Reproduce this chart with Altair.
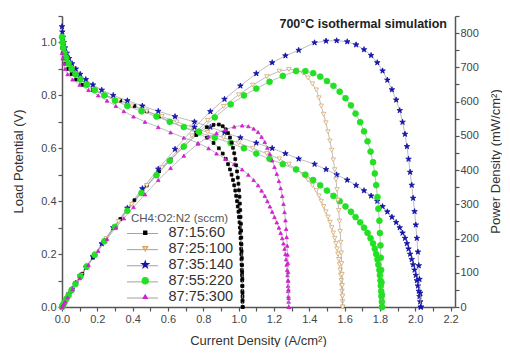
import altair as alt
import pandas as pd

series_names = ["87:15:60", "87:25:100", "87:35:140", "87:55:220", "87:75:300"]

# ---- 87:15:60 (black squares)
v_black = [0.98, 0.96, 0.94, 0.92, 0.90, 0.88, 0.86, 0.84, 0.82, 0.80, 0.78, 0.76, 0.74, 0.72, 0.70,
           0.68, 0.66, 0.64, 0.62, 0.60, 0.58, 0.56, 0.54, 0.52, 0.50, 0.48, 0.46, 0.44, 0.42, 0.40,
           0.38, 0.36, 0.34, 0.32, 0.30, 0.28, 0.26, 0.24, 0.22, 0.20, 0.18, 0.16, 0.14, 0.12, 0.10,
           0.08, 0.06, 0.04, 0.02, 0.00]
i_black = [0.000, 0.004, 0.011, 0.021, 0.035, 0.054, 0.080, 0.115, 0.175, 0.245, 0.330, 0.410, 0.480, 0.550, 0.615,
           0.685, 0.760, 0.820, 0.858, 0.888, 0.910, 0.927, 0.940, 0.951, 0.960, 0.968, 0.975, 0.981, 0.986, 0.991,
           0.995, 0.999, 1.002, 1.005, 1.007, 1.009, 1.011, 1.013, 1.014, 1.015, 1.016, 1.017, 1.018, 1.019, 1.020,
           1.021, 1.021, 1.022, 1.022, 1.023]
p_black = [0, 4, 10, 19, 32, 48, 69, 97, 144, 196, 257, 312, 355, 396, 431,
           466, 502, 525, 532, 533, 528, 519, 508, 495, 480, 465, 449, 432, 414, 396,
           378, 360, 341, 322, 302, 283, 263, 243, 223, 203, 183, 163, 143, 122, 102,
           82, 61, 41, 20, 0]

# ---- 87:25:100 (open tan triangles)
v_tan = [1.02, 1.00, 0.98, 0.96, 0.94, 0.92, 0.90, 0.88, 0.86, 0.84, 0.82, 0.80, 0.78, 0.76, 0.74,
         0.72, 0.70, 0.68, 0.66, 0.64, 0.62, 0.60, 0.58, 0.56, 0.54, 0.52, 0.50, 0.48, 0.46, 0.44,
         0.42, 0.40, 0.38, 0.36, 0.34, 0.32, 0.30, 0.28, 0.26, 0.24, 0.22, 0.20, 0.18, 0.16, 0.14,
         0.12, 0.10, 0.08, 0.06, 0.04, 0.02, 0.00]
i_tan = [0.000, 0.003, 0.008, 0.015, 0.026, 0.040, 0.058, 0.080, 0.108, 0.145, 0.192, 0.250, 0.320, 0.395, 0.480,
         0.565, 0.650, 0.735, 0.825, 0.915, 1.000, 1.080, 1.160, 1.230, 1.285, 1.330, 1.365, 1.393, 1.418, 1.440,
         1.455, 1.468, 1.481, 1.494, 1.506, 1.517, 1.527, 1.536, 1.544, 1.551, 1.557, 1.562, 1.567, 1.571, 1.575,
         1.578, 1.581, 1.583, 1.585, 1.587, 1.588, 1.589]
p_tan = [0, 3, 8, 14, 24, 37, 52, 70, 93, 122, 157, 200, 250, 300, 355,
         407, 455, 500, 545, 586, 620, 648, 673, 689, 694, 692, 683, 669, 652, 634,
         611, 587, 563, 538, 512, 485, 458, 430, 401, 372, 343, 312, 282, 251, 221,
         189, 158, 127, 95, 63, 32, 0]

# ---- 87:35:140 (blue stars)
v_blue = [1.06, 1.04, 1.02, 1.00, 0.98, 0.96, 0.94, 0.92, 0.90, 0.88, 0.86, 0.84, 0.82, 0.80, 0.78,
          0.76, 0.74, 0.72, 0.70, 0.68, 0.66, 0.64, 0.62, 0.60, 0.58, 0.56, 0.54, 0.52, 0.50, 0.48,
          0.46, 0.44, 0.42, 0.40, 0.38, 0.36, 0.34, 0.32, 0.30, 0.28, 0.26, 0.24, 0.22, 0.20, 0.18,
          0.16, 0.14, 0.12, 0.10, 0.08, 0.06, 0.04, 0.02, 0.00]
i_blue = [0.000, 0.002, 0.005, 0.010, 0.017, 0.027, 0.040, 0.057, 0.078, 0.103, 0.135, 0.175, 0.225, 0.290, 0.370,
          0.455, 0.545, 0.640, 0.750, 0.840, 0.920, 1.010, 1.100, 1.190, 1.265, 1.340, 1.430, 1.495, 1.555, 1.615,
          1.665, 1.710, 1.750, 1.785, 1.815, 1.842, 1.868, 1.892, 1.912, 1.928, 1.942, 1.953, 1.962, 1.971, 1.980,
          1.988, 1.996, 2.003, 2.009, 2.015, 2.020, 2.024, 2.028, 2.031]
p_blue = [0, 2, 5, 10, 17, 26, 38, 52, 70, 91, 116, 147, 185, 232, 289,
          346, 403, 461, 525, 571, 607, 646, 682, 714, 734, 750, 772, 777, 778, 775,
          766, 752, 735, 714, 690, 663, 635, 605, 574, 540, 505, 469, 432, 394, 356,
          318, 279, 240, 201, 161, 121, 81, 41, 0]

# ---- 87:55:220 (green circles)
v_green = [1.02, 1.00, 0.98, 0.96, 0.94, 0.92, 0.90, 0.88, 0.86, 0.84, 0.82, 0.80, 0.78, 0.76, 0.74,
           0.72, 0.70, 0.68, 0.66, 0.64, 0.62, 0.60, 0.58, 0.56, 0.54, 0.52, 0.50, 0.48, 0.46, 0.44,
           0.42, 0.40, 0.38, 0.36, 0.34, 0.32, 0.30, 0.28, 0.26, 0.24, 0.22, 0.20, 0.18, 0.16, 0.14,
           0.12, 0.10, 0.08, 0.06, 0.04, 0.02, 0.00]
i_green = [0.000, 0.003, 0.007, 0.014, 0.024, 0.037, 0.054, 0.076, 0.104, 0.140, 0.185, 0.240, 0.300, 0.370, 0.450,
           0.535, 0.610, 0.690, 0.775, 0.865, 0.955, 1.030, 1.100, 1.175, 1.250, 1.325, 1.378, 1.422, 1.462, 1.500,
           1.537, 1.572, 1.605, 1.636, 1.662, 1.688, 1.710, 1.730, 1.747, 1.761, 1.771, 1.779, 1.786, 1.791, 1.797,
           1.800, 1.803, 1.805, 1.807, 1.809, 1.811, 1.812]
p_green = [0, 3, 7, 13, 23, 34, 49, 67, 89, 118, 152, 192, 234, 281, 333,
           385, 427, 469, 512, 554, 592, 618, 638, 658, 675, 689, 689, 683, 673, 660,
           646, 629, 610, 589, 565, 540, 513, 484, 454, 423, 390, 356, 321, 287, 252,
           216, 180, 144, 108, 72, 36, 0]

# ---- 87:75:300 (magenta triangles)
v_mag = [0.96, 0.94, 0.92, 0.90, 0.88, 0.86, 0.84, 0.82, 0.80, 0.78, 0.76, 0.74, 0.72, 0.70, 0.68,
         0.66, 0.64, 0.62, 0.60, 0.58, 0.56, 0.54, 0.52, 0.50, 0.48, 0.46, 0.44, 0.42, 0.40, 0.38,
         0.36, 0.34, 0.32, 0.30, 0.28, 0.26, 0.24, 0.22, 0.20, 0.18, 0.16, 0.14, 0.12, 0.10, 0.08,
         0.06, 0.04, 0.02, 0.00]
i_mag = [0.000, 0.004, 0.010, 0.018, 0.032, 0.060, 0.100, 0.150, 0.205, 0.255, 0.305, 0.350, 0.405, 0.470, 0.545,
         0.615, 0.690, 0.770, 0.830, 0.875, 0.925, 0.975, 1.020, 1.055, 1.085, 1.110, 1.130, 1.148, 1.163, 1.177,
         1.190, 1.203, 1.216, 1.228, 1.238, 1.247, 1.254, 1.260, 1.265, 1.269, 1.272, 1.275, 1.277, 1.279, 1.280,
         1.281, 1.282, 1.283, 1.284]
p_mag = [0, 4, 9, 16, 28, 52, 84, 123, 164, 199, 232, 259, 292, 329, 371,
         406, 442, 477, 498, 508, 518, 527, 530, 528, 521, 511, 497, 482, 465, 447,
         428, 409, 389, 368, 347, 324, 301, 277, 253, 228, 204, 179, 153, 128, 102,
         77, 51, 26, 0]

x_ticks = [0.0, 0.1, 0.2, 0.3, 0.4, 0.5, 0.6, 0.7, 0.8, 0.9, 1.0, 1.1, 1.2, 1.3, 1.4, 1.5,
           1.6, 1.7, 1.8, 1.9, 2.0, 2.1, 2.2]
v_ticks = [0.0, 0.1, 0.2, 0.3, 0.4, 0.5, 0.6, 0.7, 0.8, 0.9, 1.0, 1.1]
p_ticks = [0, 50, 100, 150, 200, 250, 300, 350, 400, 450, 500, 550, 600, 650, 700, 750, 800, 850]

title_text = "700°C isothermal simulation"

series_data = [(series_names[0], v_black, i_black, p_black),
               (series_names[1], v_tan, i_tan, p_tan),
               (series_names[2], v_blue, i_blue, p_blue),
               (series_names[3], v_green, i_green, p_green),
               (series_names[4], v_mag, i_mag, p_mag)]
rows = []
for name, vs, cs, ps in series_data:
    for k, (v, c, p) in enumerate(zip(vs, cs, ps)):
        rows.append({"series": name, "k": k, "I": c, "V": v, "P": p})
df = pd.DataFrame(rows)

STAR = ("M0,-1L0.2245,-0.309L0.951,-0.309L0.363,0.118L0.588,0.809L0,0.382"
        "L-0.588,0.809L-0.363,0.118L-0.951,-0.309L-0.2245,-0.309Z")
stroke_cols = ["#000000", "#d6a870", "#1414a8", "#22e022", "#d020d0"]
fill_cols = ["#000000", "#ffffff", "#1414a8", "#22e022", "#d020d0"]
shape_rng = ["square", "triangle-down", STAR, "circle", "triangle-up"]
size_rng = [8, 20, 34, 34, 13]

FONT = "Liberation Sans"
leg_title = "CH4:O2:N2 (sccm)"
leg = alt.Legend(title=leg_title)

x_enc = alt.X("I:Q", scale=alt.Scale(domain=[0, 2.225], nice=False, zero=False),
              axis=alt.Axis(values=x_ticks, title="Current Density (A/cm²)", labelFlush=False,
                            labelExpr="(round(datum.value*10) % 2 == 0) ? format(datum.value, '.1f') : ''",
                            titleX=196, titleY=33, titleBaseline="middle", titleAlign="center"))
yV = alt.Y("V:Q", scale=alt.Scale(domain=[0, 1.1], nice=False, zero=False),
           axis=alt.Axis(values=v_ticks, orient="left", title="Load Potential (V)", labelFlush=False,
                         labelExpr="(round(datum.value*10) % 2 == 0) ? format(datum.value, '.1f') : ''",
                         titleX=-44, titleY=145, titleAngle=270, titleBaseline="middle", titleAlign="center"))
yP = alt.Y("P:Q", scale=alt.Scale(domain=[0, 850], nice=False, zero=False),
           axis=alt.Axis(values=p_ticks, orient="right", title="Power Density (mW/cm²)", labelFlush=False,
                         labelExpr="(datum.value % 100 == 0) ? datum.value : ''",
                         labelPadding=1,
                         titleX=40, titleY=145, titleAngle=270, titleBaseline="middle", titleAlign="center"))

enc_common = dict(
    stroke=alt.Stroke("series:N", scale=alt.Scale(domain=series_names, range=stroke_cols), legend=leg),
    fill=alt.Fill("series:N", scale=alt.Scale(domain=series_names, range=fill_cols), legend=leg),
    shape=alt.Shape("series:N", scale=alt.Scale(domain=series_names, range=shape_rng), legend=leg),
    size=alt.Size("series:N", scale=alt.Scale(type="ordinal", domain=series_names, range=size_rng), legend=leg),
)

base = alt.Chart(df)

v_line = base.mark_line(color="#a0a0a0", strokeWidth=0.7).encode(
    x=x_enc, y=yV, detail="series:N", order="k:Q")
v_pts = base.mark_point(filled=False, strokeWidth=0.8, opacity=1).encode(
    x=x_enc, y=yV, **enc_common)
p_line = base.mark_line(color="#a0a0a0", strokeWidth=0.7).encode(
    x=x_enc, y=yP, detail="series:N", order="k:Q")
p_pts = base.mark_point(filled=False, strokeWidth=0.8, opacity=1).encode(
    x=x_enc, y=yP, **enc_common)

left = alt.layer(v_line, v_pts)
right = alt.layer(p_line, p_pts)

# short grey line segments behind the legend symbols (as in the original legend)
leg_lines = alt.Chart(pd.DataFrame({"series": series_names})).mark_rule(
    color="#8a8a8a", strokeWidth=0.8
).encode(
    x=alt.value(65), x2=alt.value(96),
    y=alt.Y("series:N", scale=alt.Scale(type="point", domain=series_names, range=[217.5, 282], padding=0),
            axis=None),
)

ttl = alt.Chart(pd.DataFrame({"t": [title_text]})).mark_text(
    align="right", baseline="middle", font=FONT, fontSize=12.5, fontWeight="bold", color="#222222"
).encode(x=alt.value(385), y=alt.value(8), text="t:N")

chart = alt.layer(left, right, leg_lines, ttl).resolve_scale(y="independent").properties(
    width=393, height=291,
    autosize=alt.AutoSizeParams(type="none"),
    padding={"left": 54, "top": 8, "right": 47, "bottom": 40},
).configure_view(stroke="transparent").configure_axis(
    grid=False, domainColor="#555555", domainWidth=1.5, tickColor="#555555", tickWidth=1.2,
    tickSize=4, labelColor="#444444", labelFont=FONT, labelFontSize=11, labelPadding=2,
    titleFont=FONT, titleFontSize=13, titleFontWeight="normal", titleColor="#333333",
).configure_legend(
    orient="none", legendX=69, legendY=197, labelFont=FONT, labelFontSize=14.5, labelColor="#333333",
    titleFont=FONT, titleFontSize=11.5, titleFontWeight="normal", titleColor="#555555",
    titlePadding=1, rowPadding=1, symbolOffset=7, labelOffset=16, padding=0,
)

chart.save("out.html", embed_options={"renderer": "svg", "actions": False})
